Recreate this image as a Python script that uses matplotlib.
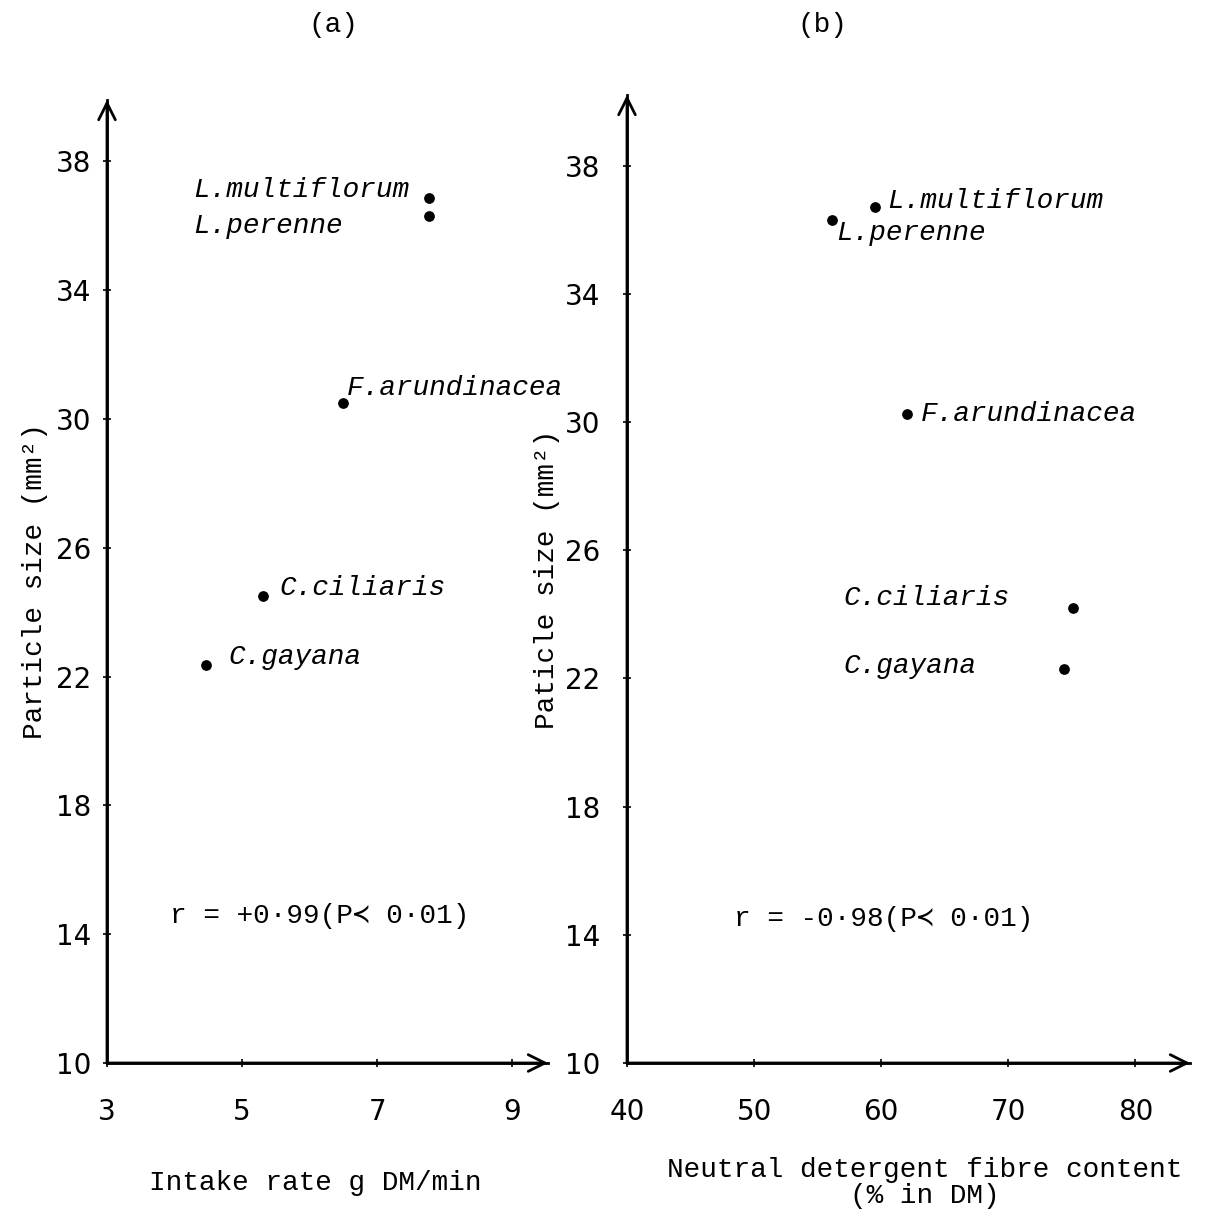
import matplotlib
matplotlib.use("Agg")
import matplotlib.pyplot as plt

# data
species = ["L.multiflorum", "L.perenne", "F.arundinacea", "C.ciliaris", "C.gayana"]
intake_rate = [7.77, 7.77, 6.5, 5.31, 4.47]
size_a = [36.85, 36.3, 30.5, 24.5, 22.35]
ndf = [59.5, 56.1, 62.0, 75.1, 74.4]
size_b = [36.7, 36.3, 30.25, 24.2, 22.3]

ticks_a = [3, 5, 7, 9]
ticks_b = [40, 50, 60, 70, 80]
y_ticks = [10, 14, 18, 22, 26, 30, 34, 38]

# label anchors (left edge, vertical centre) in data units
lab_a = [(4.27, 37.1), (4.27, 36.0), (6.55, 30.95), (5.56, 24.75), (4.8, 22.6)]
lab_b = [(60.5, 36.9), (56.5, 35.9), (63.1, 30.25), (57.0, 24.5), (57.0, 22.4)]

mono = ["Liberation Mono", "DejaVu Sans Mono", "DejaVu Sans"]
tick_font = "DejaVu Sans"
fs = 20

fig = plt.figure(figsize=(12.09, 12.18), dpi=100)
ax_a = fig.add_axes([107 / 1209, 1 - 1063 / 1218, (548 - 107) / 1209, (1063 - 100) / 1218])
ax_b = fig.add_axes([627 / 1209, 1 - 1063 / 1218, (1190 - 627) / 1209, (1063 - 95) / 1218])


def setup(ax, xticks, xlim, ylim, ypad):
    ax.set_xlim(*xlim)
    ax.set_ylim(*ylim)
    for s in ["top", "right"]:
        ax.spines[s].set_visible(False)
    for s in ["left", "bottom"]:
        ax.spines[s].set_linewidth(2)
    ax.set_xticks(xticks)
    ax.set_yticks(y_ticks)
    ax.tick_params(direction="inout", length=6, width=1.2, labelsize=fs)
    ax.tick_params(axis="x", pad=22)
    ax.tick_params(axis="y", pad=ypad)
    for lab in ax.get_xticklabels() + ax.get_yticklabels():
        lab.set_family(tick_font)
    # arrow heads at the ends of the axes
    arrow = dict(arrowstyle="->", lw=2, mutation_scale=30, shrinkA=0, shrinkB=0)
    ax.annotate("", xy=(1, 0), xytext=(0, 0), xycoords="axes fraction", arrowprops=arrow)
    ax.annotate("", xy=(0, 1), xytext=(0, 0), xycoords="axes fraction", arrowprops=arrow)


setup(ax_a, ticks_a, (3, 9.53), (10, 39.9), 8)
setup(ax_b, ticks_b, (40, 84.3), (10, 40.2), 16)

ax_a.scatter(intake_rate, size_a, s=45, color="black", zorder=3)
ax_b.scatter(ndf, size_b, s=45, color="black", zorder=3)

for name, (x, y) in zip(species, lab_a):
    ax_a.text(x, y, name, family=mono, style="italic", fontsize=fs, va="center", ha="left")
for name, (x, y) in zip(species, lab_b):
    ax_b.text(x, y, name, family=mono, style="italic", fontsize=fs, va="center", ha="left")

ax_a.text(3.93, 14.55, "r = +0·99(P≺ 0·01)", family=mono, fontsize=fs, va="center")
ax_b.text(48.4, 14.5, "r = -0·98(P≺ 0·01)", family=mono, fontsize=fs, va="center")

ax_a.set_ylabel("Particle size (mm²)", family=mono, fontsize=fs, labelpad=6)
ax_b.set_ylabel("Paticle size (mm²)", family=mono, fontsize=fs, labelpad=4)

fig.text(315 / 1209, 1 - 1183 / 1218, "Intake rate g DM/min", family=mono, fontsize=fs,
         ha="center", va="center")
fig.text(925 / 1209, 1 - 1183 / 1218, "Neutral detergent fibre content\n(% in DM)", family=mono,
         fontsize=fs, ha="center", va="center", linespacing=1.0)

fig.text(333 / 1209, 1 - 25 / 1218, "(a)", family=mono, fontsize=fs, ha="center", va="center")
fig.text(822 / 1209, 1 - 25 / 1218, "(b)", family=mono, fontsize=fs, ha="center", va="center")

fig.savefig("out.png", dpi=100)
